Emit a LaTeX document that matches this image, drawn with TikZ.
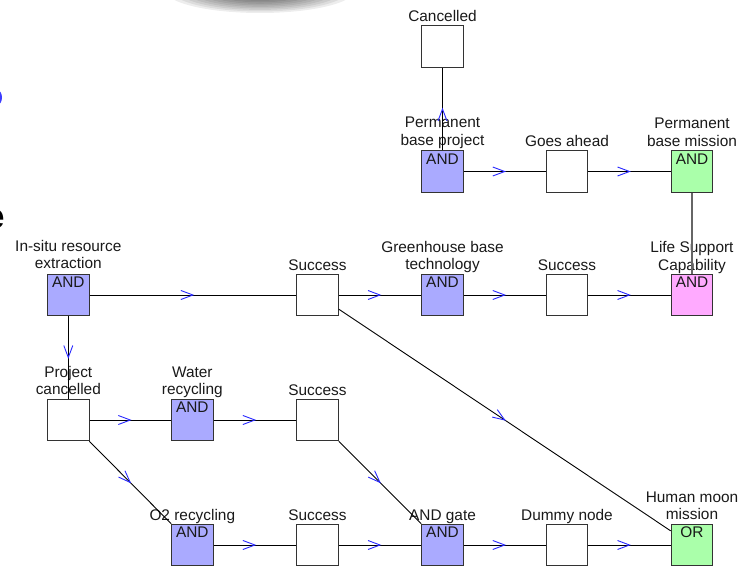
\documentclass[tikz,border=0pt]{standalone}
\usepackage{fontspec}
\setmainfont{Liberation Sans}
\usetikzlibrary{decorations.markings}
\definecolor{andblue}{RGB}{170,170,255}
\definecolor{orgreen}{RGB}{170,255,170}
\definecolor{lspink}{RGB}{255,170,255}
\definecolor{chev}{RGB}{40,40,255}
\definecolor{txt}{RGB}{25,25,25}
\definecolor{bullet}{RGB}{60,60,255}
\newcommand\gfont{\fontsize{15.4pt}{17.7pt}\selectfont}
\newcommand\lbltab[1]{\begin{tabular}[b]{@{}c@{}}#1\end{tabular}}
\begin{document}
\begin{tikzpicture}[x=1pt,y=-1pt,font=\gfont,text=txt,
  box/.style={draw=black!80, line width=1pt, minimum size=41.6pt, inner sep=0pt, fill=white},
  gatetxt/.style={anchor=north, inner sep=0pt, yshift=-3.2pt, text=txt, font=\gfont},
  gate/.style 2 args={box, fill=#1, label={[gatetxt]north:#2}},
  lbl/.style={anchor=base, inner sep=0pt},
  flow/.style={draw=black, line width=0.9pt, postaction={decorate},
    decoration={markings, mark=at position 0.5 with {\draw[chev, line width=0.9pt, line join=miter] (-12pt,4.5pt) -- (0pt,0pt) -- (-12pt,-4.5pt);}}},
  plainline/.style={draw=black!60, line width=1.2pt},
  shadowlayer/.style={fill=black, fill opacity=0.07}
]
\useasboundingbox (0,0) rectangle (755,567);
% slide remnants
\foreach \k in {1,...,15} {
  \fill[shadowlayer] (260,-10) ellipse [x radius={95*\k/15}, y radius={23*\k/15}];
}
\fill[bullet] (-3,97.5) ellipse [x radius=5, y radius=7.5];
\node[anchor=base east, inner sep=0pt, font=\fontsize{35pt}{40pt}\selectfont\bfseries, text=black] (frag) at (5,228) {e};
% boxes
\node[box] (cancelled) at (442.5,46.5) {};
\node[gate={andblue}{AND}] (pbp) at (442.5,171.5) {};
\node[box] (goes) at (567,171.5) {};
\node[gate={orgreen}{AND}] (pbm) at (692,171.5) {};
\node[gate={andblue}{AND}] (isre) at (68.3,295) {};
\node[box] (succ1) at (317.5,295) {};
\node[gate={andblue}{AND}] (greenh) at (442.5,295) {};
\node[box] (succ2) at (567,295) {};
\node[gate={lspink}{AND}] (lsc) at (692,295) {};
\node[box] (pc) at (68.3,420) {};
\node[gate={andblue}{AND}] (water) at (192.3,420) {};
\node[box] (succ3) at (317.5,420) {};
\node[gate={andblue}{AND}] (o2) at (192.3,545) {};
\node[box] (succ4) at (317.5,545) {};
\node[gate={andblue}{AND}] (andg) at (442.5,545) {};
\node[box] (dummy) at (567,545) {};
\node[gate={orgreen}{OR}] (hmm) at (692,545) {};
% labels
\node[lbl] (l-cancelled) at ([yshift=4pt]cancelled.north) {\lbltab{Cancelled}};
\node[lbl] (l-pbp) at ([yshift=5pt]pbp.north) {\lbltab{Permanent\\base project}};
\node[lbl] (l-goes) at ([yshift=4pt]goes.north) {\lbltab{Goes ahead}};
\node[lbl] (l-pbm) at ([yshift=4pt]pbm.north) {\lbltab{Permanent\\base mission}};
\node[lbl] (l-isre) at ([yshift=5pt]isre.north) {\lbltab{In-situ resource\\extraction}};
\node[lbl] (l-succ1) at ([yshift=3.5pt]succ1.north) {\lbltab{Success}};
\node[lbl] (l-greenh) at ([yshift=4pt]greenh.north) {\lbltab{Greenhouse base\\technology}};
\node[lbl] (l-succ2) at ([yshift=3.5pt]succ2.north) {\lbltab{Success}};
\node[lbl] (l-lsc) at ([yshift=3.5pt]lsc.north) {\lbltab{Life Support\\Capability}};
\node[lbl] (l-pc) at ([yshift=4pt]pc.north) {\lbltab{Project\\cancelled}};
\node[lbl] (l-water) at ([yshift=4pt]water.north) {\lbltab{Water\\recycling}};
\node[lbl] (l-succ3) at ([yshift=3.5pt]succ3.north) {\lbltab{Success}};
\node[lbl] (l-o2) at ([yshift=3.5pt]o2.north) {\lbltab{O2 recycling}};
\node[lbl] (l-succ4) at ([yshift=3.5pt]succ4.north) {\lbltab{Success}};
\node[lbl] (l-andg) at ([yshift=3.5pt]andg.north) {\lbltab{AND gate}};
\node[lbl] (l-dummy) at ([yshift=3.5pt]dummy.north) {\lbltab{Dummy node}};
\node[lbl] (l-hmm) at ([yshift=4pt]hmm.north) {\lbltab{Human moon\\mission}};
% connectors
\draw[flow] (pbp) -- (cancelled);
\draw[flow] (pbp) -- (goes);
\draw[flow] (goes) -- (pbm);
\draw[plainline] (pbm) -- (lsc);
\draw[flow] (isre) -- (succ1);
\draw[flow] (succ1) -- (greenh);
\draw[flow] (greenh) -- (succ2);
\draw[flow] (succ2) -- (lsc);
\draw[flow] (isre) -- (pc);
\draw[flow] (succ1) -- (hmm);
\draw[flow] (pc) -- (water);
\draw[flow] (water) -- (succ3);
\draw[flow] (pc) -- (o2);
\draw[flow] (succ3) -- (andg);
\draw[flow] (o2) -- (succ4);
\draw[flow] (succ4) -- (andg);
\draw[flow] (andg) -- (dummy);
\draw[flow] (dummy) -- (hmm);
\end{tikzpicture}
\end{document}
